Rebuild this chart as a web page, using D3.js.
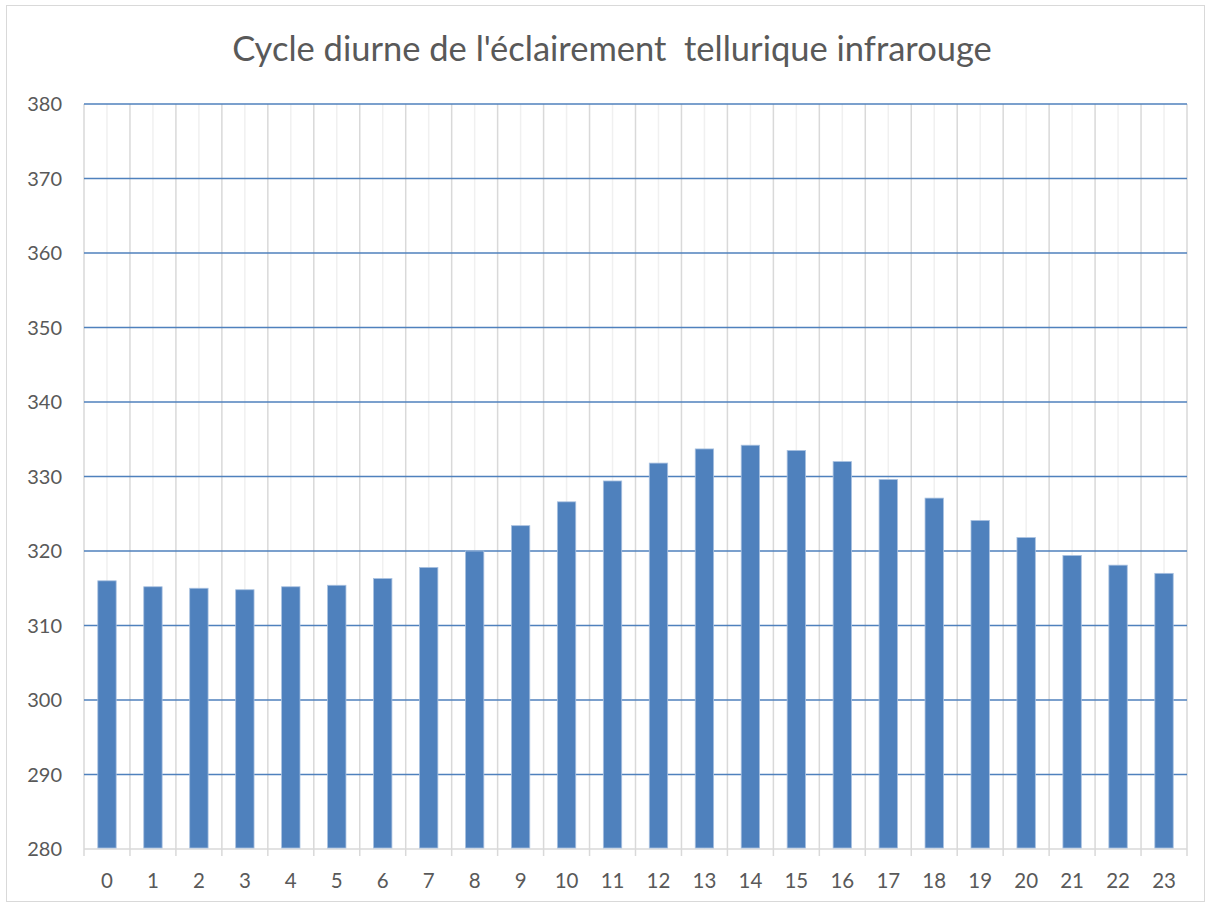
<!DOCTYPE html>
<html><head><meta charset="utf-8">
<script src="https://cdn.jsdelivr.net/npm/d3@7"></script>
<style>body{margin:0;background:#fff;}svg{display:block;font-family:Lato,"Open Sans",sans-serif;}</style>
</head><body>
<svg id="c" width="1212" height="904"></svg>
<script>
const title = "Cycle diurne de l'éclairement\u00a0 tellurique infrarouge";
const hours = ["0","1","2","3","4","5","6","7","8","9","10","11","12","13","14","15","16","17","18","19","20","21","22","23"];
const values = [316.0,315.2,315.0,314.8,315.2,315.4,316.3,317.8,320.0,323.4,326.6,329.4,331.8,333.7,334.2,333.5,332.0,329.6,327.1,324.1,321.8,319.4,318.1,317.0];
const yTicks = [280,290,300,310,320,330,340,350,360,370,380];

const svg = d3.select("#c");
const m = {l:84, r:1187, t:104, b:849};
svg.append("rect").attr("x",6.5).attr("y",5.5).attr("width",1198).attr("height",896)
  .attr("fill","#fff").attr("stroke","#d9d9d9");

const x = d3.scaleBand().domain(hours).range([m.l,m.r]).paddingInner(0.6).paddingOuter(0.3);
const xc = d3.scaleBand().domain(hours).range([m.l,m.r]);
const y = d3.scaleLinear().domain([280,380]).range([m.b,m.t]);

// minor vertical gridlines at centers
svg.append("g").selectAll("line").data(hours).join("line")
  .attr("x1",d=>xc(d)+xc.bandwidth()/2).attr("x2",d=>xc(d)+xc.bandwidth()/2)
  .attr("y1",m.t).attr("y2",m.b).attr("stroke","#f0f0f0").attr("stroke-width",1.5);
// major vertical gridlines at boundaries
const bounds = hours.map(d=>xc(d)).concat([m.r]);
svg.append("g").selectAll("line").data(bounds).join("line")
  .attr("x1",d=>d).attr("x2",d=>d).attr("y1",m.t).attr("y2",m.b+7)
  .attr("stroke","#d9d9d9").attr("stroke-width",1.5);
// horizontal gridlines
svg.append("g").selectAll("line").data(yTicks.slice(1)).join("line")
  .attr("x1",m.l).attr("x2",m.r).attr("y1",d=>y(d)).attr("y2",d=>y(d))
  .attr("stroke","#4f81bd").attr("stroke-width",1.5);
// x axis line
svg.append("line").attr("x1",m.l).attr("x2",m.r).attr("y1",m.b).attr("y2",m.b)
  .attr("stroke","#d9d9d9").attr("stroke-width",1.5);

// bars
svg.append("g").selectAll("rect").data(values).join("rect")
  .attr("x",(d,i)=>x(hours[i])).attr("width",x.bandwidth())
  .attr("y",d=>y(d)).attr("height",d=>y(280)-y(d)-1)
  .attr("fill","#4f81bd").attr("stroke","#a9c1e0").attr("stroke-width",0.8);

// y labels
svg.append("g").selectAll("text").data(yTicks).join("text")
  .attr("x",62).attr("y",d=>y(d)+7).attr("text-anchor","end")
  .attr("font-size",20).attr("fill","#595959").text(d=>d);
// x labels
svg.append("g").selectAll("text").data(hours).join("text")
  .attr("x",d=>xc(d)+xc.bandwidth()/2).attr("y",888).attr("text-anchor","middle")
  .attr("font-size",20.5).attr("fill","#595959").text(d=>d);
// title
svg.append("text").attr("x",612).attr("y",61).attr("text-anchor","middle")
  .attr("font-size",34.5).attr("fill","#595959").text(title);
</script>
</body></html>
